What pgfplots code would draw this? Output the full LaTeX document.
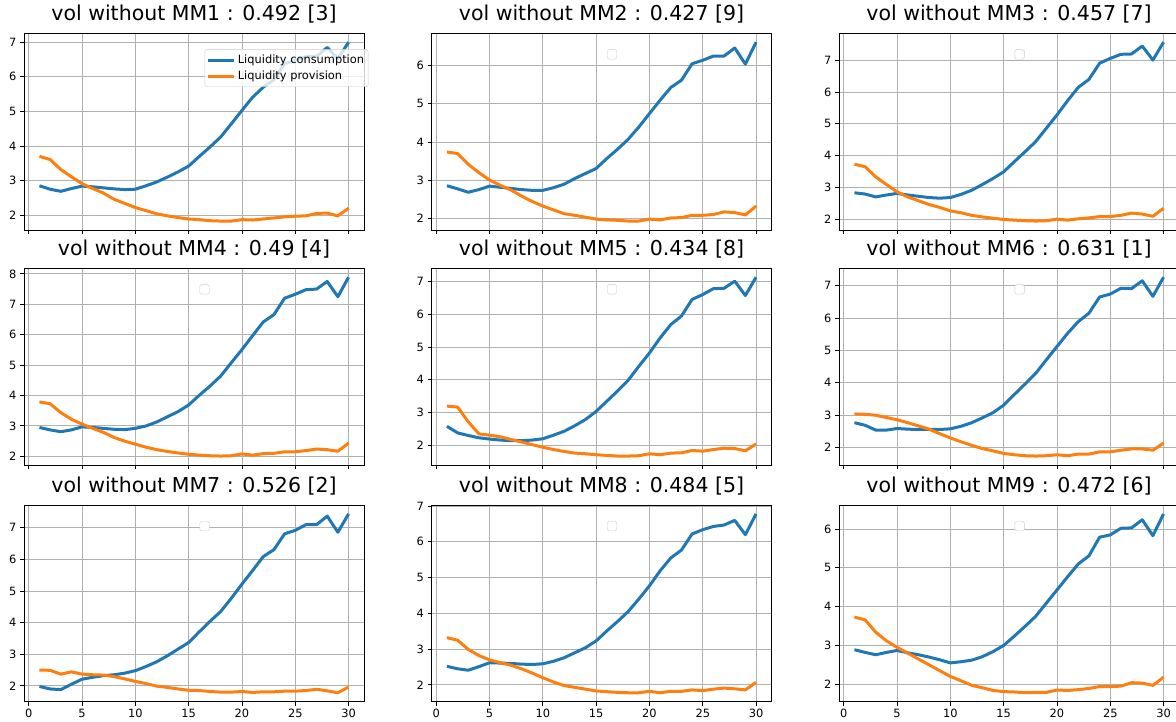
\documentclass[border=0pt]{standalone}
\usepackage{fontspec}
\setmainfont{DejaVu Sans}
\usepackage{pgfplots}
\usepackage{pgfplotstable}
\pgfplotsset{compat=1.18}
\definecolor{mplblue}{RGB}{31,119,180}
\definecolor{mplorange}{RGB}{255,127,14}
\definecolor{gridc}{RGB}{176,176,176}

\pgfplotstableread{
x c p
1 2.85 3.70
2 2.75 3.61
3 2.69 3.32
4 2.77 3.11
5 2.84 2.91
6 2.82 2.77
7 2.79 2.64
8 2.76 2.46
9 2.74 2.34
10 2.75 2.22
11 2.85 2.13
12 2.96 2.04
13 3.10 1.98
14 3.25 1.93
15 3.42 1.89
16 3.70 1.87
17 3.97 1.84
18 4.26 1.83
19 4.64 1.83
20 5.03 1.87
21 5.41 1.86
22 5.70 1.89
23 5.92 1.92
24 6.38 1.95
25 6.48 1.97
26 6.58 1.98
27 6.59 2.05
28 6.85 2.06
29 6.52 1.98
30 7.00 2.20
}\tabA

\pgfplotstableread{
x c p
1 2.86 3.74
2 2.78 3.70
3 2.69 3.42
4 2.76 3.20
5 2.85 3.01
6 2.82 2.87
7 2.79 2.75
8 2.76 2.59
9 2.74 2.45
10 2.74 2.33
11 2.81 2.23
12 2.90 2.13
13 3.05 2.09
14 3.18 2.04
15 3.31 1.99
16 3.57 1.97
17 3.81 1.96
18 4.07 1.94
19 4.39 1.94
20 4.74 1.99
21 5.09 1.97
22 5.42 2.02
23 5.61 2.03
24 6.04 2.09
25 6.13 2.09
26 6.24 2.11
27 6.24 2.18
28 6.45 2.16
29 6.03 2.10
30 6.60 2.33
}\tabB

\pgfplotstableread{
x c p
1 2.83 3.73
2 2.79 3.65
3 2.70 3.33
4 2.76 3.09
5 2.81 2.86
6 2.76 2.70
7 2.72 2.58
8 2.68 2.46
9 2.66 2.37
10 2.68 2.26
11 2.78 2.20
12 2.91 2.12
13 3.09 2.07
14 3.28 2.03
15 3.49 1.99
16 3.81 1.97
17 4.12 1.95
18 4.44 1.94
19 4.86 1.95
20 5.28 2.00
21 5.73 1.97
22 6.15 2.01
23 6.40 2.04
24 6.91 2.08
25 7.06 2.08
26 7.19 2.12
27 7.20 2.19
28 7.45 2.16
29 7.01 2.09
30 7.57 2.34
}\tabC

\pgfplotstableread{
x c p
1 2.95 3.79
2 2.87 3.73
3 2.81 3.44
4 2.87 3.22
5 2.97 3.06
6 2.95 2.92
7 2.92 2.79
8 2.89 2.62
9 2.88 2.50
10 2.92 2.40
11 3.00 2.30
12 3.13 2.22
13 3.30 2.16
14 3.47 2.11
15 3.69 2.07
16 4.01 2.04
17 4.31 2.02
18 4.64 2.01
19 5.08 2.02
20 5.51 2.08
21 5.97 2.04
22 6.42 2.09
23 6.66 2.10
24 7.20 2.15
25 7.33 2.15
26 7.48 2.19
27 7.50 2.24
28 7.75 2.22
29 7.25 2.17
30 7.89 2.43
}\tabD

\pgfplotstableread{
x c p
1 2.57 3.19
2 2.37 3.16
3 2.29 2.71
4 2.22 2.34
5 2.18 2.30
6 2.15 2.25
7 2.13 2.17
8 2.13 2.09
9 2.15 2.01
10 2.19 1.93
11 2.30 1.86
12 2.42 1.80
13 2.59 1.75
14 2.78 1.73
15 3.03 1.70
16 3.34 1.68
17 3.65 1.66
18 3.98 1.66
19 4.41 1.67
20 4.82 1.73
21 5.28 1.70
22 5.69 1.75
23 5.95 1.76
24 6.46 1.83
25 6.61 1.81
26 6.79 1.86
27 6.80 1.90
28 7.02 1.89
29 6.58 1.82
30 7.14 2.03
}\tabE

\pgfplotstableread{
x c p
1 2.77 3.04
2 2.69 3.03
3 2.54 3.00
4 2.54 2.93
5 2.59 2.86
6 2.57 2.77
7 2.56 2.67
8 2.56 2.57
9 2.56 2.43
10 2.58 2.30
11 2.66 2.18
12 2.77 2.07
13 2.92 1.97
14 3.08 1.90
15 3.31 1.82
16 3.64 1.78
17 3.96 1.75
18 4.29 1.74
19 4.71 1.75
20 5.12 1.78
21 5.53 1.75
22 5.89 1.80
23 6.15 1.80
24 6.65 1.87
25 6.74 1.87
26 6.92 1.92
27 6.91 1.96
28 7.15 1.96
29 6.67 1.92
30 7.26 2.14
}\tabF

\pgfplotstableread{
x c p
1 1.98 2.50
2 1.90 2.49
3 1.88 2.37
4 2.05 2.44
5 2.21 2.37
6 2.27 2.35
7 2.32 2.34
8 2.35 2.29
9 2.40 2.22
10 2.48 2.14
11 2.61 2.07
12 2.76 1.99
13 2.95 1.95
14 3.16 1.90
15 3.37 1.86
16 3.71 1.85
17 4.04 1.82
18 4.35 1.80
19 4.77 1.80
20 5.22 1.82
21 5.65 1.79
22 6.09 1.81
23 6.31 1.81
24 6.81 1.83
25 6.92 1.83
26 7.10 1.85
27 7.10 1.89
28 7.37 1.84
29 6.86 1.78
30 7.44 1.96
}\tabG

\pgfplotstableread{
x c p
1 2.52 3.32
2 2.45 3.25
3 2.41 2.99
4 2.51 2.82
5 2.62 2.70
6 2.61 2.62
7 2.60 2.55
8 2.58 2.45
9 2.57 2.33
10 2.59 2.20
11 2.66 2.08
12 2.76 1.98
13 2.90 1.93
14 3.04 1.88
15 3.23 1.83
16 3.51 1.81
17 3.77 1.79
18 4.05 1.78
19 4.40 1.78
20 4.77 1.82
21 5.19 1.78
22 5.55 1.82
23 5.77 1.82
24 6.22 1.86
25 6.34 1.84
26 6.43 1.88
27 6.47 1.91
28 6.60 1.89
29 6.20 1.86
30 6.78 2.07
}\tabH

\pgfplotstableread{
x c p
1 2.89 3.73
2 2.82 3.66
3 2.76 3.34
4 2.82 3.12
5 2.87 2.95
6 2.81 2.80
7 2.76 2.65
8 2.70 2.50
9 2.63 2.35
10 2.55 2.20
11 2.58 2.09
12 2.62 1.97
13 2.71 1.91
14 2.84 1.84
15 3.00 1.81
16 3.24 1.80
17 3.49 1.78
18 3.75 1.79
19 4.09 1.79
20 4.43 1.85
21 4.77 1.84
22 5.10 1.86
23 5.31 1.89
24 5.79 1.94
25 5.85 1.94
26 6.02 1.95
27 6.03 2.04
28 6.24 2.03
29 5.83 1.97
30 6.39 2.18
}\tabI

\pgfplotsset{
  mm/.style={
    scale only axis, width=340pt, height=196.7pt, anchor=south west,
    xmin=-0.45, xmax=31.45,
    xtick={0,5,...,30},
    ytick distance=1,
    enlarge y limits=0.05,
    grid=major,
    major grid style={color=gridc, line width=0.9pt},
    axis line style={line width=0.9pt},
    tick align=outside, tick pos=left,
    major tick length=4pt,
    every tick/.style={line width=0.9pt, black},
    tick label style={font=\fontsize{11.4}{13}\selectfont},
    /pgf/number format/assume math mode=true,
    title style={font=\fontsize{20.5}{24}\selectfont, at={(0.5,1)}, anchor=base, yshift=6.6pt, inner sep=0pt},
  },
  norowlabels/.style={xticklabels={}},
  cline/.style={color=mplblue, line width=3pt, line join=round},
  pline/.style={color=mplorange, line width=3pt, line join=round},
}
\newcommand{\emptyleg}{\node[draw=black!20, fill=white, rounded corners=1.5pt, minimum size=9.5pt, inner sep=0pt] at (rel axis cs:0.531,0.893) {};}

\begin{document}
\begin{tikzpicture}
\useasboundingbox (0,0) rectangle (1176pt,722pt);

\begin{axis}[mm, norowlabels, at={(24pt,492pt)}, title={vol without MM1 : 0.492 [3]},
  legend style={at={(1.0126,0.919)}, anchor=north east, draw=black!20, fill=white, fill opacity=0.8, text opacity=1, rounded corners=2pt, font=\fontsize{11.4}{13}\selectfont, inner xsep=2pt, inner ysep=3.5pt, row sep=2pt},
  legend cell align=left,
  legend image code/.code={\draw[#1] (0pt,0pt) -- (26pt,0pt);}]
\addplot[cline] table[x=x,y=c] {\tabA};
\addplot[pline] table[x=x,y=p] {\tabA};
\legend{Liquidity consumption, Liquidity provision}
\end{axis}

\begin{axis}[mm, norowlabels, at={(431.5pt,492pt)}, title={vol without MM2 : 0.427 [9]}]
\addplot[cline] table[x=x,y=c] {\tabB};
\addplot[pline] table[x=x,y=p] {\tabB};
\emptyleg
\end{axis}

\begin{axis}[mm, norowlabels, at={(839pt,492pt)}, title={vol without MM3 : 0.457 [7]}]
\addplot[cline] table[x=x,y=c] {\tabC};
\addplot[pline] table[x=x,y=p] {\tabC};
\emptyleg
\end{axis}

\begin{axis}[mm, norowlabels, at={(24pt,257pt)}, title={vol without MM4 : 0.49 [4]}]
\addplot[cline] table[x=x,y=c] {\tabD};
\addplot[pline] table[x=x,y=p] {\tabD};
\emptyleg
\end{axis}

\begin{axis}[mm, norowlabels, at={(431.5pt,257pt)}, title={vol without MM5 : 0.434 [8]}]
\addplot[cline] table[x=x,y=c] {\tabE};
\addplot[pline] table[x=x,y=p] {\tabE};
\emptyleg
\end{axis}

\begin{axis}[mm, norowlabels, at={(839pt,257pt)}, title={vol without MM6 : 0.631 [1]}]
\addplot[cline] table[x=x,y=c] {\tabF};
\addplot[pline] table[x=x,y=p] {\tabF};
\emptyleg
\end{axis}

\begin{axis}[mm, at={(24pt,20.3pt)}, title={vol without MM7 : 0.526 [2]}]
\addplot[cline] table[x=x,y=c] {\tabG};
\addplot[pline] table[x=x,y=p] {\tabG};
\emptyleg
\end{axis}

\begin{axis}[mm, at={(431.5pt,20.3pt)}, title={vol without MM8 : 0.484 [5]}]
\addplot[cline] table[x=x,y=c] {\tabH};
\addplot[pline] table[x=x,y=p] {\tabH};
\emptyleg
\end{axis}

\begin{axis}[mm, at={(839pt,20.3pt)}, title={vol without MM9 : 0.472 [6]}]
\addplot[cline] table[x=x,y=c] {\tabI};
\addplot[pline] table[x=x,y=p] {\tabI};
\emptyleg
\end{axis}
\end{tikzpicture}
\end{document}
